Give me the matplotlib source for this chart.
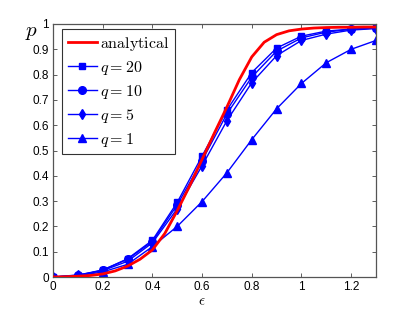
import matplotlib
matplotlib.use("Agg")
import matplotlib.pyplot as plt

plt.rcParams['mathtext.fontset'] = 'cm'
plt.rcParams['font.family'] = ['Liberation Sans', 'DejaVu Sans']

# analytical curve samples
eps_an = [0, 0.05, 0.1, 0.15, 0.2, 0.25, 0.3, 0.35, 0.4, 0.45, 0.5, 0.55, 0.6,
          0.65, 0.7, 0.75, 0.8, 0.85, 0.9, 0.95, 1.0, 1.05, 1.1, 1.15, 1.2, 1.25, 1.3]
p_an = [0, 0.001, 0.003, 0.006, 0.012, 0.024, 0.043, 0.07, 0.107, 0.172, 0.262,
        0.36, 0.465, 0.57, 0.672, 0.78, 0.87, 0.928, 0.958, 0.973, 0.98, 0.984,
        0.986, 0.987, 0.987, 0.988, 0.988]

eps = [0, 0.1, 0.2, 0.3, 0.4, 0.5, 0.6, 0.7, 0.8, 0.9, 1.0, 1.1, 1.2, 1.3]
p_q20 = [0, 0.005, 0.027, 0.072, 0.145, 0.295, 0.478, 0.66, 0.808, 0.905, 0.952, 0.972, 0.98, 0.984]
p_q10 = [0, 0.007, 0.028, 0.07, 0.14, 0.285, 0.46, 0.645, 0.79, 0.893, 0.945, 0.968, 0.979, 0.984]
p_q5 = [0, 0.008, 0.025, 0.062, 0.135, 0.27, 0.44, 0.618, 0.768, 0.875, 0.935, 0.96, 0.976, 0.982]
p_q1 = [0, 0.005, 0.02, 0.05, 0.12, 0.20, 0.298, 0.412, 0.543, 0.665, 0.765, 0.847, 0.9, 0.935]

xticks = [0, 0.2, 0.4, 0.6, 0.8, 1, 1.2]
xtick_labels = ['0', '0.2', '0.4', '0.6', '0.8', '1', '1.2']
yticks = [0, 0.1, 0.2, 0.3, 0.4, 0.5, 0.6, 0.7, 0.8, 0.9, 1]
ytick_labels = ['0', '0.1', '0.2', '0.3', '0.4', '0.5', '0.6', '0.7', '0.8', '0.9', '1']

fig = plt.figure(figsize=(4.15, 3.13), dpi=100)
ax = fig.add_axes([53/415, 1 - 277/313, (376-53)/415, (277-24)/313])

blue = '#0000ff'
ax.plot(eps_an, p_an, color='red', lw=2, label=r'$\mathrm{analytical}$', zorder=3)
ax.plot(eps, p_q20, color=blue, lw=1, marker='s', ms=5, label=r'$q=20$')
ax.plot(eps, p_q10, color=blue, lw=1, marker='o', ms=5.5, label=r'$q=10$')
ax.plot(eps, p_q5, color=blue, lw=1, marker='d', ms=5.5, label=r'$q=5$')
ax.plot(eps, p_q1, color=blue, lw=1, marker='^', ms=6, label=r'$q=1$')

ax.set_xlim(0, 1.3)
ax.set_ylim(0, 1)
ax.set_xticks(xticks)
ax.set_xticklabels(xtick_labels)
ax.set_yticks(yticks)
ax.set_yticklabels(ytick_labels)
ax.tick_params(direction='in', top=True, right=True, labelsize=8.5, length=3,
               width=0.6, color='#444444', pad=3)
for s in ax.spines.values():
    s.set_color('#555555')
    s.set_linewidth(0.9)

fig.text(32/415, 1 - 33/313, r'$p$', fontsize=15, ha='center', va='center')
fig.text(202/415, 1 - 301/313, r'$\epsilon$', fontsize=11, ha='center', va='center')

leg = ax.legend(loc='upper left', bbox_to_anchor=(9/323, 1 - 5/253), fontsize=11.5,
                frameon=True, fancybox=False, borderpad=0.35, labelspacing=0.38,
                handlelength=1.85, handletextpad=0.2, borderaxespad=0)
leg.get_frame().set_edgecolor('black')
leg.get_frame().set_linewidth(0.8)

fig.savefig('out.png', dpi=100)
